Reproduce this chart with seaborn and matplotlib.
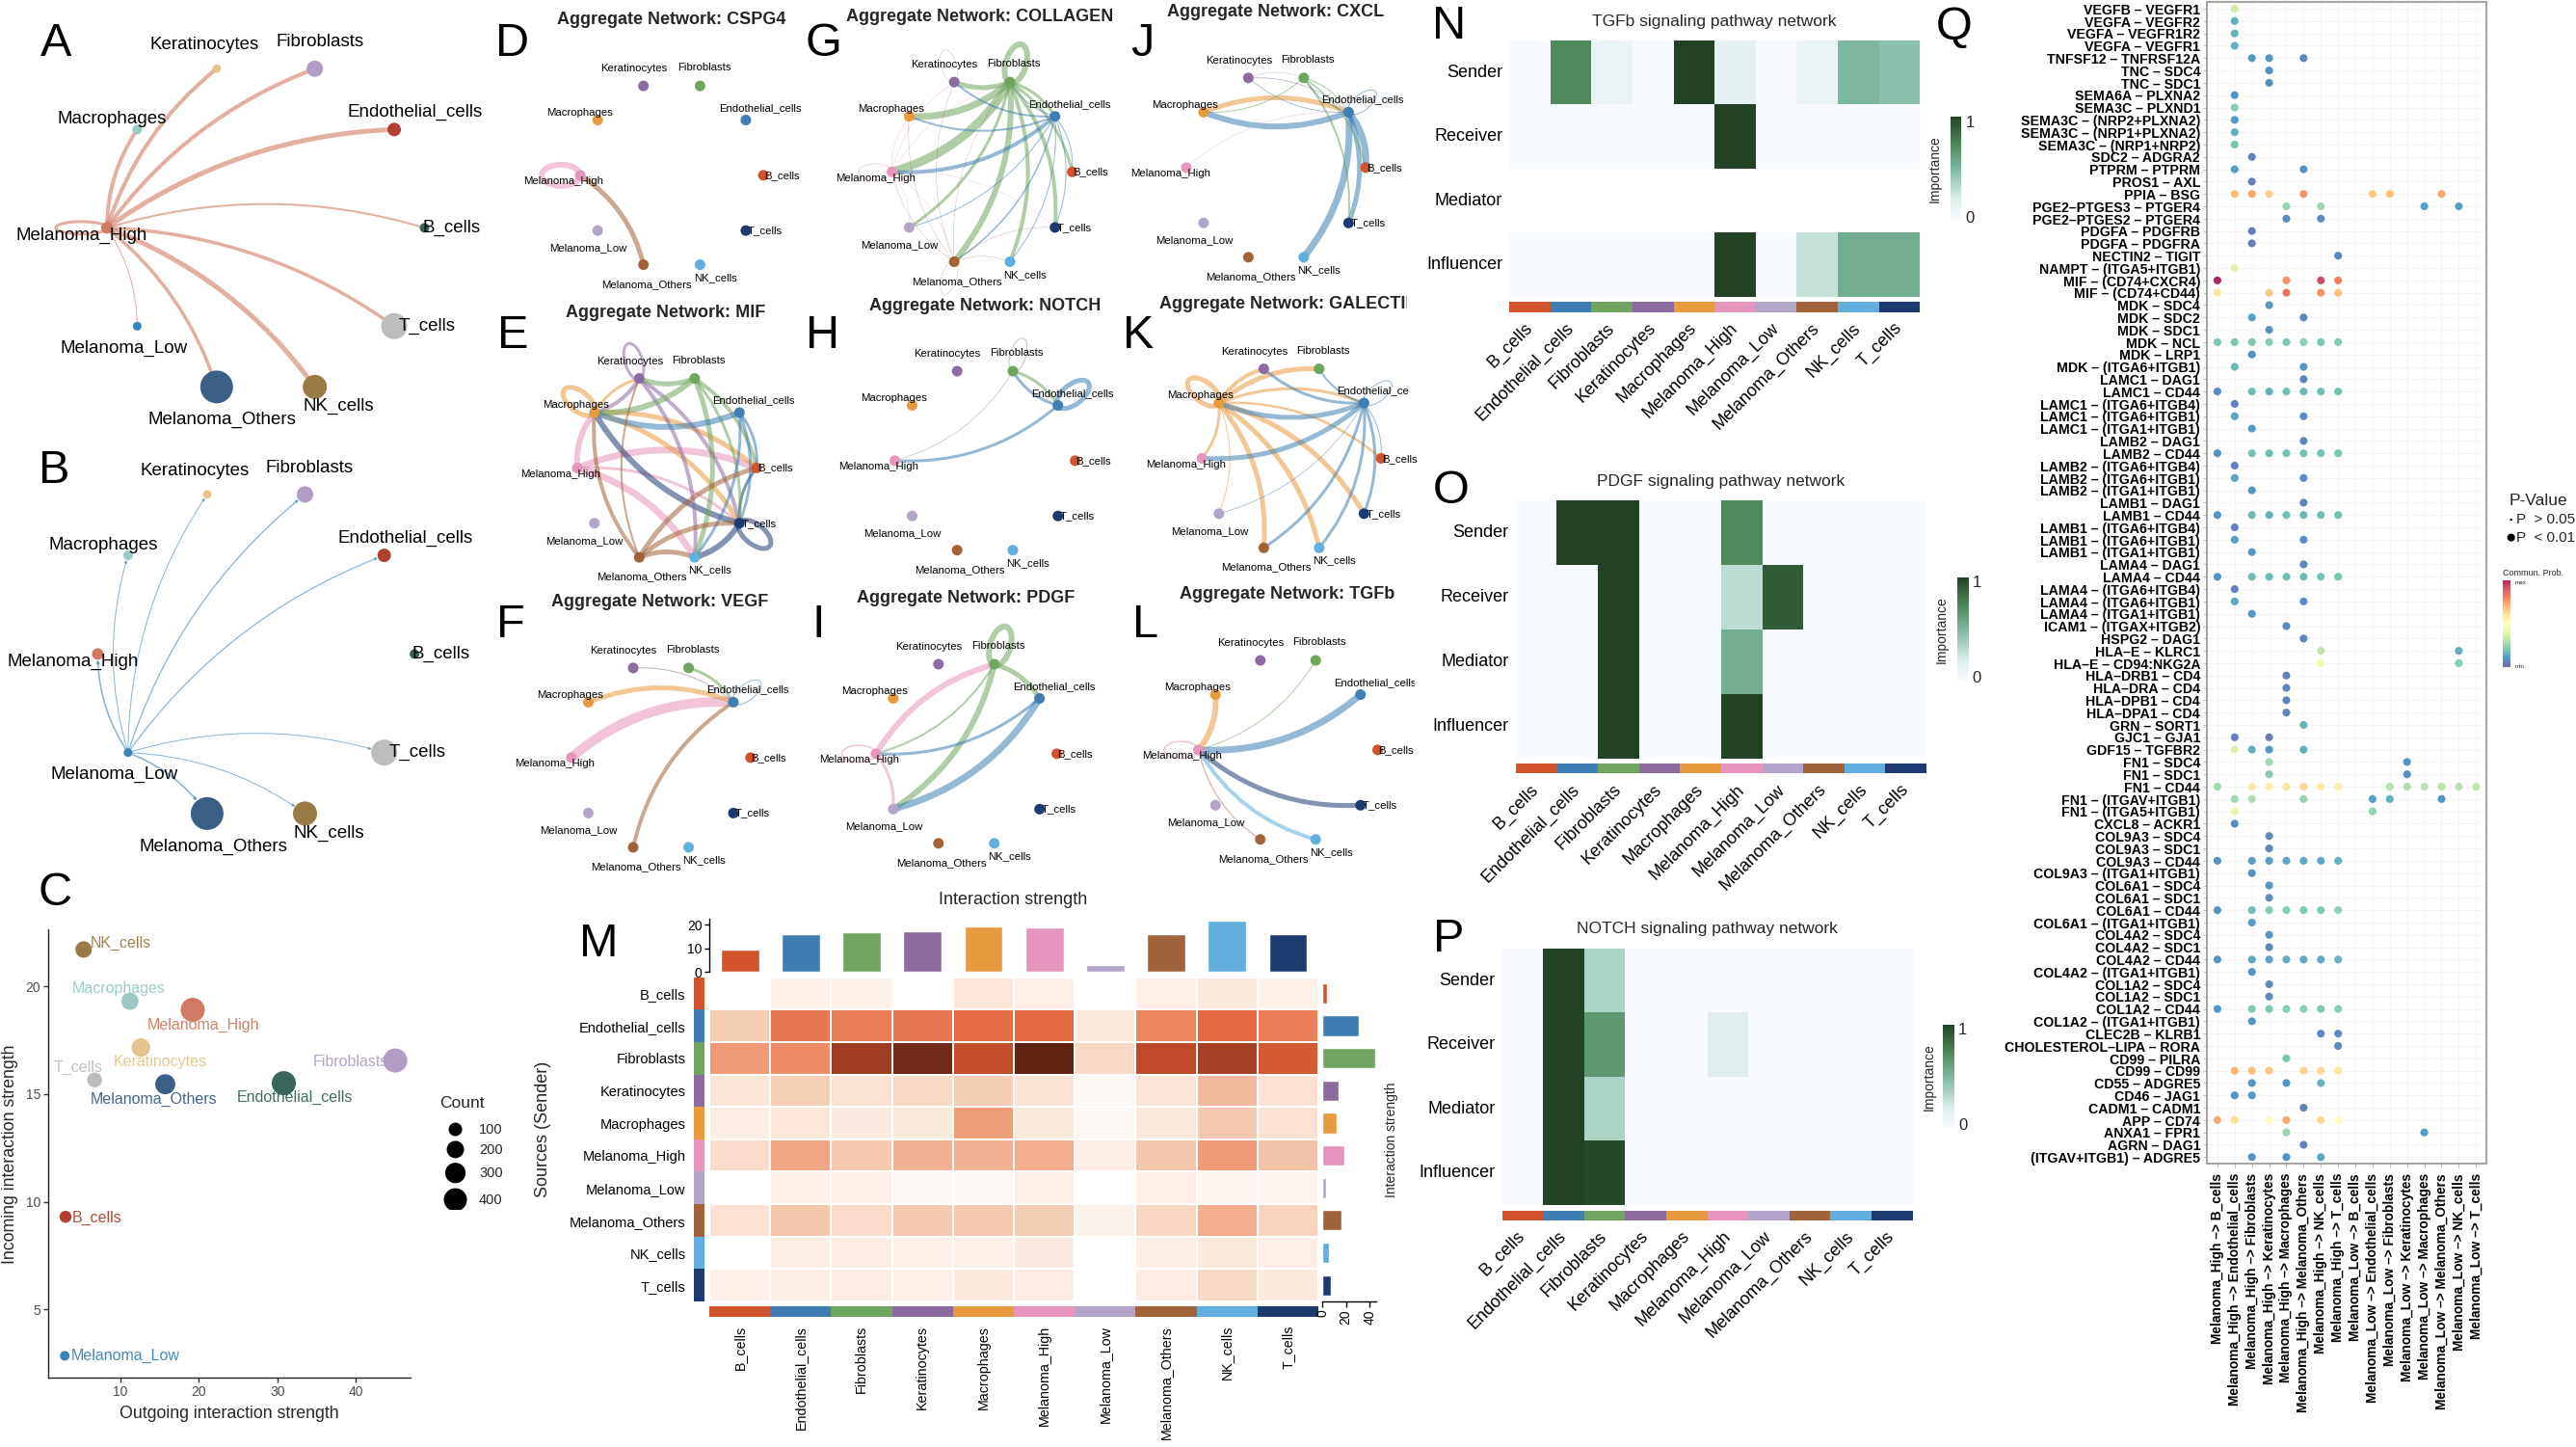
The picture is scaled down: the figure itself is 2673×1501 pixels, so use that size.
import numpy as np
import pandas as pd
import matplotlib
matplotlib.use("Agg")
import matplotlib.pyplot as plt
from matplotlib.colors import LinearSegmentedColormap, ListedColormap, Normalize
from matplotlib.cm import ScalarMappable
from matplotlib.patches import FancyArrowPatch, Ellipse
from matplotlib.transforms import Bbox
import seaborn as sns

# ------------------------------------------------------------------ data
cells = ["B_cells", "Endothelial_cells", "Fibroblasts", "Keratinocytes", "Macrophages",
         "Melanoma_High", "Melanoma_Low", "Melanoma_Others", "NK_cells", "T_cells"]
abbr = ["B", "E", "F", "K", "M", "H", "L", "O", "N", "T"]
cell_colors = ["#D2542D", "#3F7EB2", "#6FA55F", "#8C6BA0", "#E89A3F",
               "#E695BD", "#B3A4C9", "#A0633A", "#62AEDE", "#1D3B70"]
count_colors = ["#39665A", "#B2402F", "#B29DC3", "#E4C58F", "#9CC9C5",
                "#D07A63", "#3A83B9", "#3C5F87", "#9A7B45", "#BDBDBD"]
scatter_colors = ["#B2402F", "#39665A", "#B29DC3", "#E4C58F", "#9CC9C5",
                  "#D07A63", "#3A83B9", "#3C5F87", "#9A7B45", "#BDBDBD"]

outgoing = [3.0, 30.8, 45.0, 12.6, 11.2, 19.2, 2.9, 15.7, 5.3, 6.7]
incoming = [9.3, 15.5, 16.55, 17.15, 19.3, 18.9, 2.85, 15.45, 21.7, 15.65]
counts = [90, 430, 430, 250, 210, 430, 50, 290, 190, 150]
count_breaks = [100, 200, 300, 400]
node_size_A = [10, 14, 17, 9, 10, 12, 9, 34, 25, 27]

edges_A = [("H","K",4),("H","F",4),("H","E",5),("H","B",2),("H","T",3.5),("H","N",5),("H","O",3.5),("H","L",1),("H","M",4),("H","H",3)]
edges_B = [("L","H",1.6),("L","M",1),("L","K",1),("L","F",1.3),("L","E",1.2),("L","T",1),("L","N",1),("L","O",1.6)]
edges_D = [("H","H",6),("H","O",5,"O")]
edges_E = [("H","B",7),("H","N",7),("H","M",6),("H","T",3),("M","B",5),("M","T",5),("M","K",3),("M","M",5),
           ("T","M",6),("T","T",5),("T","N",6),("T","B",3),("K","T",4),("K","N",4),("K","K",3),("K","M",4),
           ("F","N",5),("F","M",6),("F","K",5),("F","B",4),("F","T",3),("E","M",6),("E","B",3),("E","T",3),("E","N",3),
           ("O","M",4),("O","B",5),("O","T",5),("O","N",5),("O","K",2)]
edges_F = [("H","E",10),("M","E",5),("O","E",4),("F","E",3),("K","E",1),("E","E",1)]
edges_G = [("F","F",6),("F","K",5),("F","M",7),("F","H",9),("F","L",3),("F","O",6),("F","N",4),("F","T",4),("F","B",3),("F","E",3),
           ("E","H",4),("E","M",2),("E","L",1),("E","O",1.5),("E","N",1),("E","T",1),("E","B",1),("E","F",1),("E","K",2),
           ("H","K",.5),("H","M",.5),("H","L",.4),("H","O",.4),("H","F",.4),("H","T",.4),("H","H",.7),
           ("O","K",.4),("O","M",.4),("O","H",.4),("O","F",.4),("O","T",.4),("O","N",.4),("O","O",.4),("K","K",.4)]
edges_H = [("E","E",5),("E","F",3),("F","E",3),("E","H",3),("F","F",1),("F","H",.7)]
edges_I = [("F","F",6),("F","E",5),("F","L",6),("F","H",2),("H","F",6),("H","H",1.5),("H","L",3),("E","L",7),("E","H",3)]
edges_J = [("M","E",5),("E","M",6),("E","B",7),("E","T",5),("E","N",7),("E","E",1),("E","F",1),("E","K",.8),("F","E",1),
           ("F","M",1),("F","B",1.5),("F","T",2),("K","F",.4),("K","E",.8),("H","E",.5)]
edges_K = [("M","M",5),("M","K",4),("M","F",5),("M","E",3),("M","H",3),("M","L",1),("M","O",5),("M","N",5),("M","T",5),("M","B",2.5),
           ("E","E",1),("E","K",3),("E","F",2),("E","M",5),("E","H",5),("E","L",.7),("E","O",3),("E","N",3),("E","T",3),("E","B",1)]
edges_L = [("E","H",7),("T","H",5),("N","H",4),("O","H",1),("F","H",1),("M","H",6),("H","H",1.5)]

strength_rows = [
    [0, .6, .6, 0, 1.4, .7, 0, .7, 1.2, .6],
    [2.6, 5.0, 4.8, 5.0, 5.5, 5.7, 1.1, 4.6, 5.7, 4.8],
    [4.0, 4.4, 7.8, 8.9, 6.8, 9.6, 2.2, 7.0, 7.6, 6.3],
    [1.5, 2.5, 1.7, 2.2, 2.6, 1.7, .3, 1.6, 3.2, 1.8],
    [.9, 1.4, 1.0, 1.2, 3.9, 1.2, .3, 1.2, 2.7, 1.8],
    [2.1, 3.7, 2.7, 3.4, 3.4, 3.5, .8, 2.8, 4.0, 2.9],
    [0, .6, .6, .3, .3, .7, 0, .7, .4, .4],
    [1.8, 2.8, 2.1, 2.7, 2.7, 2.6, .5, 2.3, 3.5, 2.4],
    [0, .8, .9, .6, .6, 1.0, 0, .8, 1.2, .7],
    [.6, .8, .9, .6, 1.2, .9, 0, .9, 2.2, 1.2]]
col_totals = [9.5, 16, 17, 17.5, 19.5, 19, 3, 16, 22, 16]
row_totals = [4, 31, 45, 13.5, 12, 19, 3, 16, 6, 7]

roles = ["Sender", "Receiver", "Mediator", "Influencer"]
nan = float("nan")
tgfb_rows = [[0, .72, .1, 0, 1, .13, 0, .1, .5, .45],
             [0, 0, 0, 0, 0, 1, 0, 0, 0, 0],
             [nan] * 10,
             [0, 0, 0, 0, 0, 1, 0, .27, .55, .55]]
pdgf_rows = [[0, 1, 1, 0, 0, .72, 0, 0, 0, 0],
             [0, 0, 1, 0, 0, .3, .9, 0, 0, 0],
             [0, 0, 1, 0, 0, .55, 0, 0, 0, 0],
             [0, 0, 1, 0, 0, 1, 0, 0, 0, 0]]
notch_rows = [[0, 1, .35, 0, 0, 0, 0, 0, 0, 0],
              [0, 1, .65, 0, 0, .17, 0, 0, 0, 0],
              [0, 1, .35, 0, 0, 0, 0, 0, 0, 0],
              [0, 1, .97, 0, 0, 0, 0, 0, 0, 0]]

lr_pairs = ["VEGFB – VEGFR1","VEGFA – VEGFR2","VEGFA – VEGFR1R2","VEGFA – VEGFR1","TNFSF12 – TNFRSF12A","TNC – SDC4","TNC – SDC1",
 "SEMA6A – PLXNA2","SEMA3C – PLXND1","SEMA3C – (NRP2+PLXNA2)","SEMA3C – (NRP1+PLXNA2)","SEMA3C – (NRP1+NRP2)","SDC2 – ADGRA2","PTPRM – PTPRM",
 "PROS1 – AXL","PPIA – BSG","PGE2–PTGES3 – PTGER4","PGE2–PTGES2 – PTGER4","PDGFA – PDGFRB","PDGFA – PDGFRA","NECTIN2 – TIGIT",
 "NAMPT – (ITGA5+ITGB1)","MIF – (CD74+CXCR4)","MIF – (CD74+CD44)","MDK – SDC4","MDK – SDC2","MDK – SDC1","MDK – NCL","MDK – LRP1",
 "MDK – (ITGA6+ITGB1)","LAMC1 – DAG1","LAMC1 – CD44","LAMC1 – (ITGA6+ITGB4)","LAMC1 – (ITGA6+ITGB1)","LAMC1 – (ITGA1+ITGB1)",
 "LAMB2 – DAG1","LAMB2 – CD44","LAMB2 – (ITGA6+ITGB4)","LAMB2 – (ITGA6+ITGB1)","LAMB2 – (ITGA1+ITGB1)",
 "LAMB1 – DAG1","LAMB1 – CD44","LAMB1 – (ITGA6+ITGB4)","LAMB1 – (ITGA6+ITGB1)","LAMB1 – (ITGA1+ITGB1)",
 "LAMA4 – DAG1","LAMA4 – CD44","LAMA4 – (ITGA6+ITGB4)","LAMA4 – (ITGA6+ITGB1)","LAMA4 – (ITGA1+ITGB1)",
 "ICAM1 – (ITGAX+ITGB2)","HSPG2 – DAG1","HLA–E – KLRC1","HLA–E – CD94:NKG2A","HLA–DRB1 – CD4","HLA–DRA – CD4","HLA–DPB1 – CD4","HLA–DPA1 – CD4",
 "GRN – SORT1","GJC1 – GJA1","GDF15 – TGFBR2","FN1 – SDC4","FN1 – SDC1","FN1 – CD44","FN1 – (ITGAV+ITGB1)","FN1 – (ITGA5+ITGB1)","CXCL8 – ACKR1",
 "COL9A3 – SDC4","COL9A3 – SDC1","COL9A3 – CD44","COL9A3 – (ITGA1+ITGB1)","COL6A1 – SDC4","COL6A1 – SDC1","COL6A1 – CD44","COL6A1 – (ITGA1+ITGB1)",
 "COL4A2 – SDC4","COL4A2 – SDC1","COL4A2 – CD44","COL4A2 – (ITGA1+ITGB1)","COL1A2 – SDC4","COL1A2 – SDC1","COL1A2 – CD44","COL1A2 – (ITGA1+ITGB1)",
 "CLEC2B – KLRB1","CHOLESTEROL–LIPA – RORA","CD99 – PILRA","CD99 – CD99","CD55 – ADGRE5","CD46 – JAG1","CADM1 – CADM1","APP – CD74",
 "ANXA1 – FPR1","AGRN – DAG1","(ITGAV+ITGB1) – ADGRE5"]

pair_targets = [f"Melanoma_High –> {c}" for c in ["B_cells","Endothelial_cells","Fibroblasts","Keratinocytes","Macrophages","Melanoma_Others","NK_cells","T_cells"]] + \
               [f"Melanoma_Low –> {c}" for c in ["B_cells","Endothelial_cells","Fibroblasts","Keratinocytes","Macrophages","Melanoma_Others","NK_cells","T_cells"]]

lam = lambda a,b,c,d,e,f,g: {0:a,2:b,3:c,4:d,5:e,6:f,7:g}
lr_probs = [
 {1:.33},{1:.12},{1:.13},{1:.12},{2:.07,3:.08,5:.04},{3:.06},{3:.05},{1:.06},{1:.2},{1:.08},{1:.12},{1:.17},{2:.03},{1:.09,5:.06},{2:.02},
 {1:.68,2:.72,3:.64,5:.76,9:.65,10:.68,13:.72},{4:.22,6:.24,12:.09,14:.09},{4:.05,6:.05},{2:.02},{2:.01},{7:.04},{1:.36},
 {0:1.0,4:.76,6:.92,7:.8},{0:.58,3:.65,4:.83,6:.76,7:.67},{3:.08},{2:.09,5:.04},{3:.06},
 {0:.17,1:.17,2:.17,3:.19,4:.17,5:.2,6:.17,7:.19},{2:.05},{1:.14,5:.07},
 {5:.03},lam(.05,.14,.12,.15,.14,.15,.16),{1:.03},{1:.1,5:.05},{2:.08},
 {5:.03},lam(.06,.16,.15,.16,.16,.16,.17),{1:.03},{1:.1,5:.05},{2:.07},
 {5:.03},lam(.06,.14,.12,.15,.14,.15,.16),{1:.03},{1:.09,5:.05},{2:.07},
 {5:.03},lam(.06,.15,.14,.15,.15,.16,.17),{1:.03},{1:.11,5:.05},{2:.07},
 {4:.05},{5:.03},{6:.3,14:.12},{6:.42,14:.2},{4:.03},{4:.03},{4:.03},{4:.03},{5:.13},{1:.02,3:.01},{1:.36,2:.12,3:.07,5:.12},
 {3:.24,11:.07},{3:.18,11:.05},
 {0:.24,2:.57,3:.55,4:.58,5:.62,6:.57,7:.55,10:.28,11:.27,12:.28,13:.29,14:.28,15:.29},
 {1:.24,2:.26,5:.22,9:.09,10:.12,13:.07},{1:.39,9:.22},{1:.05},
 {3:.05},{3:.03},lam(.06,.09,.09,.11,.11,.11,.12),{2:.06},
 {3:.07},{3:.05},lam(.06,.15,.19,.19,.18,.18,.21),{2:.08},
 {3:.07},{3:.04},lam(.06,.1,.1,.12,.11,.11,.13),{2:.07},
 {3:.05},{3:.04},lam(.07,.18,.18,.19,.2,.18,.2),{2:.07},
 {6:.04,7:.04},{7:.04},{4:.17},{1:.7,2:.68,3:.66,5:.63,6:.61,7:.58},{2:.07,4:.07,6:.13},{1:.06,2:.08},{5:.03},
 {0:.72,1:.6,3:.5,4:.72,6:.62,7:.5},{4:.23,12:.08},{5:.03},{2:.06,4:.06,6:.1}]

# ------------------------------------------------------------------ set-up
sns.set_theme(style="white")
plt.rcParams["font.family"] = ["Liberation Sans", "DejaVu Sans"]
plt.rcParams["axes.grid"] = False

W, H = 2673, 1501
fig = plt.figure(figsize=(2673.2 / 100, 1501.2 / 100), dpi=100, facecolor="white")
PT = 0.72


def ax_px(x0, y0, x1, y1, **kw):
    return fig.add_axes([x0 / W, 1 - y1 / H, (x1 - x0) / W, (y1 - y0) / H], **kw)


ov = ax_px(0, 0, W, H, zorder=100)
ov.set_xlim(0, W)
ov.set_ylim(H, 0)
ov.axis("off")
ov.patch.set_alpha(0)


def T(x, y, s, size=10, ha="center", va="center", **kw):
    return ov.text(x, y, s, fontsize=size, ha=ha, va=va, **kw)


# panel letters
for letter, x, y in [("A",58,45),("B",56,488),("C",57,926),("D",532,45),("E",532,348),("F",530,648),("G",854,45),("H",853,348),("I",849,648),
                     ("J",1185,45),("K",1181,348),("L",1188,648),("M",621,979),("N",1504,27),("O",1506,509),("P",1503,974),("Q",2028,28)]:
    T(x, y, letter, size=35, color="black")

# ------------------------------------------------------------------ networks
angles = np.deg2rad(np.arange(10) * 36.0)
node_x, node_y = np.cos(angles), np.sin(angles)
idx = {a: i for i, a in enumerate(abbr)}
off_small = [(19,0),(15,-13),(4,-19),(-10,-18),(-19,-8),(-17,6),(-10,18),(3,20),(16,13),(20,0)]
off_big = [(28,0),(22,-18),(5,-28),(-13,-25),(-26,-11),(-26,8),(-14,23),(6,34),(25,20),(34,0)]


def network(box, cx, cy, rx, ry, edges, colors, sizes, offs, fsize, rad=-0.2, arrows=False, loop=(34, 16),
            endo_clip=None, alpha=.55):
    x0, y0, x1, y1 = box
    ax = ax_px(x0, y0, x1, y1)
    ax.patch.set_alpha(0)
    for e in edges:
        a, b, w = e[:3]
        c = colors[idx[e[3]]] if len(e) > 3 else colors[idx[a]]
        i, j = idx[a], idx[b]
        if i == j:
            L, Th = loop[0] + w, loop[1] + w
            ex = node_x[i] * (1 + L / 2 / rx)
            ey = node_y[i] * (1 + L / 2 / ry)
            ax.add_patch(Ellipse((ex, ey), L / rx, Th / ry, angle=np.rad2deg(angles[i]), fill=False,
                                 ec=c, lw=w * PT, alpha=alpha, zorder=1))
        else:
            ax.add_patch(FancyArrowPatch((node_x[i], node_y[i]), (node_x[j], node_y[j]),
                                         connectionstyle=f"arc3,rad={rad}",
                                         arrowstyle="-|>" if arrows else "-",
                                         mutation_scale=4 if arrows else 1,
                                         lw=w * PT, color=c, alpha=alpha, shrinkA=0,
                                         shrinkB=sizes[j] / 2 * PT if arrows else 0, zorder=1))
    sns.scatterplot(x=node_x, y=node_y, hue=cells, palette=dict(zip(cells, colors)), size=cells,
                    sizes=dict(zip(cells, [(s * PT) ** 2 for s in sizes])), legend=False, linewidth=0,
                    ax=ax, zorder=3)
    for k, name in enumerate(cells):
        px = cx + rx * node_x[k] + offs[k][0]
        py = cy - ry * node_y[k] + offs[k][1]
        t = ax.text((px - cx) / rx, (cy - py) / ry, name, fontsize=fsize, ha="center", va="center",
                    color="black", clip_on=True, zorder=4)
        if endo_clip is not None and name == "Endothelial_cells":
            t.set_clip_box(Bbox([[0, 0], [endo_clip, H]]))
    ax.set_xlim((x0 - cx) / rx, (x1 - cx) / rx)
    ax.set_ylim((cy - y1) / ry, (cy - y0) / ry)
    ax.set_xlabel("")
    ax.set_ylabel("")
    ax.axis("off")
    return ax


network((0, 30, 510, 470), 275.7, 236.5, 164.8, 173.5, edges_A, count_colors, node_size_A, off_big, 13.5, rad=-.15, loop=(50, 10), alpha=.6)
network((0, 470, 510, 905), 265.7, 678.5, 164.3, 174, edges_B, count_colors, node_size_A, off_big, 13.5, rad=-.15, arrows=True, alpha=.6)

small = [11] * 10
for box, cx, cy, rx, ry, edges, clipx in [
    ((505, 30, 846, 305), 697, 182, 95, 97.5, edges_D, None),
    ((505, 330, 846, 612), 692, 485.5, 93, 97.6, edges_E, None),
    ((505, 630, 846, 930), 685.7, 786, 93, 97.8, edges_F, None),
    ((846, 25, 1165, 310), 1019, 178.5, 93.5, 98, edges_G, None),
    ((846, 330, 1165, 612), 1022, 478, 93.5, 97.6, edges_H, None),
    ((846, 630, 1165, 930), 1002.7, 782, 93.8, 97.7, edges_I, None),
    ((1165, 25, 1480, 310), 1324, 174, 93, 97.8, edges_J, None),
    ((1165, 325, 1480, 612), 1340, 475.6, 93, 97.6, edges_K, 1462),
    ((1165, 625, 1480, 930), 1336.4, 778, 93, 97.6, edges_L, 1468)]:
    network(box, cx, cy, rx, ry, edges, cell_colors, small, off_small, 8.2, endo_clip=clipx)

for x, y, s in [(697,20,"CSPG4"),(1017,17,"COLLAGEN"),(1323,12,"CXCL"),(691,324,"MIF"),(1022,317,"NOTCH"),(685,624,"VEGF"),(1002,620,"PDGF"),(1336,616,"TGFb")]:
    T(x, y, f"Aggregate Network: {s}", size=13, fontweight="bold")
ax_k_title = ax_px(1165, 300, 1460, 330)
ax_k_title.axis("off")
ax_k_title.text(38 / 295, 0.5, "Aggregate Network: GALECTIN", transform=ax_k_title.transAxes, fontsize=13,
                fontweight="bold", ha="left", va="center", clip_on=True)

# ------------------------------------------------------------------ C scatter
axc = ax_px(50, 964, 425.6, 1429)
size_of = lambda d: (d * PT) ** 2
sns.scatterplot(x=outgoing, y=incoming, hue=cells, palette=dict(zip(cells, scatter_colors)), size=counts,
                sizes=(size_of(10), size_of(25)), size_norm=(50, 430), legend=False, linewidth=0, ax=axc)
axc.set_xlim(0.79, 46.9)
axc.set_ylim(1.84, 22.64)
axc.set_xticks([10, 20, 30, 40])
axc.set_yticks([5, 10, 15, 20])
axc.tick_params(axis="both", labelsize=10, labelcolor="#4D4D4D", length=3.5, width=1, color="#333333", bottom=True, left=True, pad=2)
sns.despine(ax=axc)
for s in ("left", "bottom"):
    axc.spines[s].set_color("#222222")
    axc.spines[s].set_linewidth(1)
axc.set_xlabel("")
axc.set_ylabel("")
T(237.5, 1466, "Outgoing interaction strength", size=12.8)
T(10, 1197, "Incoming interaction strength", size=12.8, rotation=90)
c_off = [(33,1),(11,15),(-46,1),(20,15),(-12,-13),(11,16),(63,0),(-12,16),(39,-7),(-17,-13)]
for k, name in enumerate(cells):
    px = 50 + (outgoing[k] - 0.79) / (46.9 - 0.79) * 375.6 + c_off[k][0]
    py = 1429 - (incoming[k] - 1.84) / (22.64 - 1.84) * 465 + c_off[k][1]
    T(px, py, name, size=11.5, color=scatter_colors[k], alpha=.95)
T(456, 1144, "Count", size=12.5, ha="left")
axl = ax_px(455, 1160, 490, 1255)
key_y = [3, 2.1, 1.05, -.15]
sns.scatterplot(x=[0] * 4, y=key_y, size=count_breaks, sizes=(size_of(14), size_of(24)), size_norm=(100, 400), color="black",
                linewidth=0, legend=False, ax=axl)
axl.set_xlim(-1, 1)
axl.set_ylim(-.6, 3.5)
axl.axis("off")
for v, y in zip(count_breaks, [1172, 1193, 1217, 1245]):
    T(497, y, str(v), size=10.5, ha="left")

# ------------------------------------------------------------------ M heatmap
orange_cmap = LinearSegmentedColormap.from_list("strength", [
    (0, "#FFFFFF"), (.06, "#FDF0E8"), (.2, "#F9DFCF"), (.3, "#F3BFA3"), (.4, "#EF9A75"), (.5, "#E87850"),
    (.6, "#DF6239"), (.7, "#C04A2A"), (.8, "#963A20"), (.9, "#6D2818"), (1, "#5A1E12")])
strength = pd.DataFrame(strength_rows, index=cells, columns=cells)
axm = ax_px(736, 1013.7, 1368, 1350)
sns.heatmap(strength, cmap=orange_cmap, vmin=0, vmax=10, cbar=False, ax=axm, xticklabels=False, yticklabels=False,
            linewidths=.3, linecolor="#FFFFFF")
axm.set_xlabel("")
axm.set_ylabel("")
axm.tick_params(length=0)

strip_cmap = ListedColormap(cell_colors)


def strip(ax, vertical=False):
    codes = np.arange(10)[:, None] if vertical else np.arange(10)[None, :]
    sns.heatmap(codes, cmap=strip_cmap, vmin=0, vmax=9, cbar=False, ax=ax, xticklabels=False, yticklabels=False)
    ax.tick_params(length=0)


axs = ax_px(720, 1013.7, 731, 1350)
strip(axs, vertical=True)
axs.set_yticks(np.arange(10) + .5)
axs.set_yticklabels(cells, fontsize=10.5, rotation=0, ha="right", color="black")
axs.tick_params(axis="y", pad=6, length=0)

axs2 = ax_px(736, 1355, 1368, 1366.5)
strip(axs2)
axs2.set_xticks(np.arange(10) + .5)
axs2.set_xticklabels(cells, fontsize=10.3, rotation=90, ha="center", va="top", color="black")
axs2.tick_params(axis="x", pad=6, length=0)

axt = ax_px(736, 953, 1368, 1008)
sns.barplot(x=cells, y=col_totals, hue=cells, palette=cell_colors, legend=False, width=.63, ax=axt, saturation=1)
axt.set_xlim(-.5, 9.5)
axt.set_ylim(0, 22.7)
axt.set_yticks([0, 10, 20])
axt.set_xticks([])
axt.tick_params(axis="y", labelsize=10, length=3.5, width=1, color="black", left=True, pad=2, labelcolor="black")
sns.despine(ax=axt, bottom=True)
axt.spines["left"].set_color("black")
axt.spines["left"].set_linewidth(1)
axt.patch.set_alpha(0)

axr = ax_px(1372, 1013.7, 1428, 1350)
sns.barplot(y=cells, x=row_totals, hue=cells, palette=cell_colors, legend=False, width=.63, orient="h", ax=axr, saturation=1)
axr.set_ylim(9.5, -.5)
axr.set_xlim(0, 45.5)
axr.set_xticks([0, 20, 40])
axr.set_yticks([])
axr.set_xlabel("")
axr.set_ylabel("")
axr.tick_params(axis="x", labelsize=10, length=4, width=1, color="black", bottom=True, pad=2, labelcolor="black", labelrotation=90)
sns.despine(ax=axr, left=True)
axr.spines["bottom"].set_color("black")
axr.spines["bottom"].set_linewidth(1)
axr.patch.set_alpha(0)

T(1051, 933, "Interaction strength", size=13)
T(563, 1171, "Sources (Sender)", size=13, rotation=90)
T(1444, 1182, "Interaction strength", size=10, rotation=90)

# ------------------------------------------------------------------ N O P
imp_cmap = LinearSegmentedColormap.from_list("imp", [(0, "#F7FBFF"), (.2, "#DDECEC"), (.5, "#7DB7A0"), (.75, "#4B8256"), (1, "#234225")])


def role_heat(x0, y0, x1, y1, sy0, sy1, rows, title, tx, ty, cb, t1, t0, imp):
    ax = ax_px(x0, y0, x1, y1)
    sns.heatmap(pd.DataFrame(rows, index=roles, columns=cells), cmap=imp_cmap, vmin=0, vmax=1, cbar=False,
                ax=ax, xticklabels=False, yticklabels=True)
    ax.set_yticklabels(roles, rotation=0, fontsize=13, color="black")
    ax.tick_params(axis="y", length=0, pad=5)
    ax.set_xlabel("")
    ax.set_ylabel("")
    st = ax_px(x0, sy0, x1, sy1)
    strip(st)
    st.set_xticks(np.arange(10) + .5)
    st.set_xticklabels(cells, fontsize=13, rotation=45, ha="right", va="center", rotation_mode="anchor", color="black")
    st.tick_params(axis="x", pad=10, length=0)
    T(tx, ty, title, size=12.5)
    cax = ax_px(*cb)
    cbar = fig.colorbar(ScalarMappable(Normalize(0, 1), imp_cmap), cax=cax)
    cbar.outline.set_visible(False)
    cbar.set_ticks([])
    T(t1[0], t1[1], "1", size=12)
    T(t0[0], t0[1], "0", size=12)
    T(imp[0], imp[1], "Importance", size=10, rotation=90)


role_heat(1566, 42, 1992, 308, 313, 324, tgfb_rows, "TGFb signaling pathway network", 1778.5, 22,
          (2023.6, 121, 2035, 228), (2044, 127), (2044, 226), (2008, 175))
role_heat(1572.5, 519, 1999, 787, 792, 802.5, pdgf_rows, "PDGF signaling pathway network", 1785.6, 499.6,
          (2031, 599, 2043, 706.7), (2051.5, 604), (2050.6, 703), (2015, 653))
role_heat(1558.5, 984, 1984.5, 1250, 1256, 1266, notch_rows, "NOTCH signaling pathway network", 1771.7, 963.5,
          (2016, 1062.6, 2028, 1170.5), (2036.5, 1068), (2036.5, 1167.5), (2002, 1116.6))

# ------------------------------------------------------------------ Q bubble plot
dots = pd.DataFrame([(c, r, v) for r, row in enumerate(lr_probs) for c, v in row.items()], columns=["pair", "lr", "prob"])
bub_cmap = sns.color_palette("Spectral_r", as_cmap=True)
axq = ax_px(2290, 1.7, 2580, 1207)
sns.scatterplot(data=dots, x="pair", y="lr", hue="prob", hue_norm=(-.03, 1), palette=bub_cmap, s=34, alpha=.85,
                linewidth=0, legend=False, ax=axq, zorder=3)
axq.set_xlim(-.6, 15.61)
axq.set_ylim(93.52, -.59)
axq.set_xticks(range(16))
axq.set_xticklabels(pair_targets, rotation=90, fontsize=9.9, fontweight="bold", ha="center", va="top", color="black")
axq.set_yticks(range(len(lr_pairs)))
axq.set_yticklabels(lr_pairs, fontsize=10.2, fontweight="bold", color="black")
axq.tick_params(axis="both", length=3, width=.7, color="#BBBBBB", bottom=True, left=True, pad=2)
axq.tick_params(axis="x", pad=4)
axq.grid(True, color="#F4F4F4", lw=.7)
axq.set_axisbelow(True)
axq.set_xlabel("")
axq.set_ylabel("")
for s in axq.spines.values():
    s.set_color("#A6A6A6")
    s.set_linewidth(1.5)

T(2603, 519, "P-Value", size=12.5, ha="left")
T(2611, 539, "P  > 0.05", size=11, ha="left")
T(2611, 558, "P  < 0.01", size=11, ha="left")
axk = ax_px(2600, 530, 2611, 567)
sns.scatterplot(x=[0, 0], y=[1, 0], size=[0.05, 0.01], sizes={0.05: 3, 0.01: 34}, color="black", linewidth=0, legend=False, ax=axk)
axk.set_xlim(-1, 1)
axk.set_ylim(-.5, 1.5)
axk.axis("off")
T(2597, 594, "Commun. Prob.", size=6.5, ha="left")
cq = ax_px(2597, 601.7, 2605, 691.7)
cb = fig.colorbar(ScalarMappable(Normalize(0, 1), bub_cmap), cax=cq)
cb.outline.set_visible(False)
cb.set_ticks([])
cb.solids.set_alpha(.85)
T(2609, 604, "max", size=4.5, ha="left")
T(2609, 691.5, "min", size=4.5, ha="left")

fig.savefig("out.png", dpi=100, facecolor="white")
